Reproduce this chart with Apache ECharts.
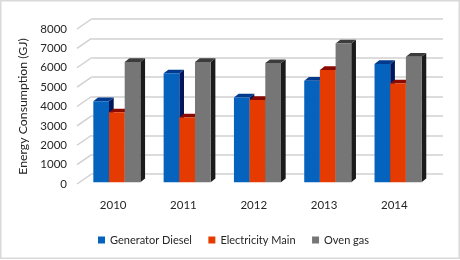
<!DOCTYPE html>
<html><head><meta charset="utf-8">
<script src="https://cdn.jsdelivr.net/npm/echarts@6/dist/echarts.min.js"></script>
<style>html,body{margin:0;padding:0;background:#fff}#c{width:460px;height:260px}</style>
</head><body><div id="c"></div>
<script>
var categories = ['2010','2011','2012','2013','2014'];
var generatorDiesel = [4170,5610,4370,5230,6090];
var electricityMain = [3600,3340,4240,5780,5090];
var ovenGas = [6200,6200,6140,7150,6470];
var yTicks = [0,1000,2000,3000,4000,5000,6000,7000,8000];
var seriesNames = ['Generator Diesel','Electricity Main','Oven gas'];
var yTitle = 'Energy Consumption (GJ)';

var font = 'Lato';
var textColor = '#262626';
var palette = [
  {front:'#0562bd', top:'#033a8e', side:'#01175c'},
  {front:'#e63b00', top:'#8a0a00', side:'#8a0a00'},
  {front:'#767676', top:'#3c3c3c', side:'#1b1b1b'}
];
var depthX = 4.7, depthY = 3.7, barShare = 0.223;

function barRenderer(idx){
  return function(params, api){
    var p = api.coord([api.value(0), api.value(1)]);
    var b = api.coord([api.value(0), 0]);
    var w = api.size([1,0])[0] * barShare;
    var x0 = p[0] + (idx - 1.5) * w, x1 = x0 + w;
    var c = palette[idx];
    var top = p[1], base = b[1];
    return {type:'group', children:[
      {type:'polygon', shape:{points:[[x1,top],[x1+depthX,top-depthY],[x1+depthX,base-depthY],[x1,base]]}, style:{fill:c.side}},
      {type:'polygon', shape:{points:[[x0,top],[x0+depthX,top-depthY],[x1+depthX,top-depthY],[x1,top]]}, style:{fill:c.top}},
      {type:'rect', shape:{x:x0,y:top,width:w,height:base-top}, style:{fill:c.front}}
    ]};
  };
}
function diagonal(params, api){
  var p = api.coord([0, api.value(0)]);
  var x = params.coordSys.x;
  return {type:'line', shape:{x1:x-1,y1:p[1],x2:x+13.5,y2:p[1]-10},
    style:{stroke:'#d0d0d0', lineWidth:1.5}};
}
var barSeries = [generatorDiesel, electricityMain, ovenGas].map(function(vals,i){
  return {type:'custom', name:seriesNames[i], xAxisIndex:2, yAxisIndex:2, z:5,
    renderItem:barRenderer(i),
    encode:{x:0,y:1},
    itemStyle:{color:palette[i].front},
    data:vals.map(function(v,k){return [k,v];})};
});
var chart = echarts.init(document.getElementById('c'), null, {renderer:'canvas'});
chart.setOption({
  animation:false,
  backgroundColor:'#fff',
  graphic:[{type:'rect', silent:true, shape:{x:0.75,y:0.75,width:458.5,height:257.5},
    style:{fill:'none', stroke:'#d9d9d9', lineWidth:1.5}}],
  legend:{left:93, top:229.5, itemWidth:7, itemHeight:7, itemGap:16.5, icon:'rect',
    data:seriesNames, textStyle:{fontFamily:font, fontSize:11, color:textColor}},
  grid:[
    {left:78, width:351.5, top:29, height:155},
    {left:91.5, right:17, top:19, height:155},
    {left:81.7, width:351.5, top:27, height:155.2}
  ],
  xAxis:[
    {gridIndex:0, type:'category', data:categories, axisLine:{show:false}, axisTick:{show:false},
     axisLabel:{margin:15, fontFamily:font, fontSize:11.5, color:textColor}},
    {gridIndex:1, type:'category', data:categories, show:false},
    {gridIndex:2, type:'category', data:categories, show:false}
  ],
  yAxis:[
    {gridIndex:0, type:'value', min:0, max:8000, interval:1000, splitLine:{show:false},
     axisLine:{show:false}, axisTick:{show:false},
     name:yTitle, nameLocation:'middle', nameGap:47, nameRotate:90,
     nameTextStyle:{fontFamily:font, fontSize:12.3, color:textColor},
     axisLabel:{margin:11, padding:[2,0,0,0], fontFamily:font, fontSize:11.5, color:textColor,
       formatter:function(v){return String(v);}}},
    {gridIndex:1, type:'value', min:0, max:8000, interval:1000,
     axisLine:{show:false}, axisTick:{show:false}, axisLabel:{show:false},
     splitLine:{show:true, lineStyle:{color:'#d0d0d0', width:1.5}}},
    {gridIndex:2, type:'value', min:0, max:8000, interval:1000, show:false, splitLine:{show:false}}
  ],
  series:[{type:'custom', xAxisIndex:0, yAxisIndex:0, z:1, silent:true, renderItem:diagonal,
     encode:{y:0}, data:yTicks.map(function(t){return [t];})}].concat(barSeries)
});
</script></body></html>
